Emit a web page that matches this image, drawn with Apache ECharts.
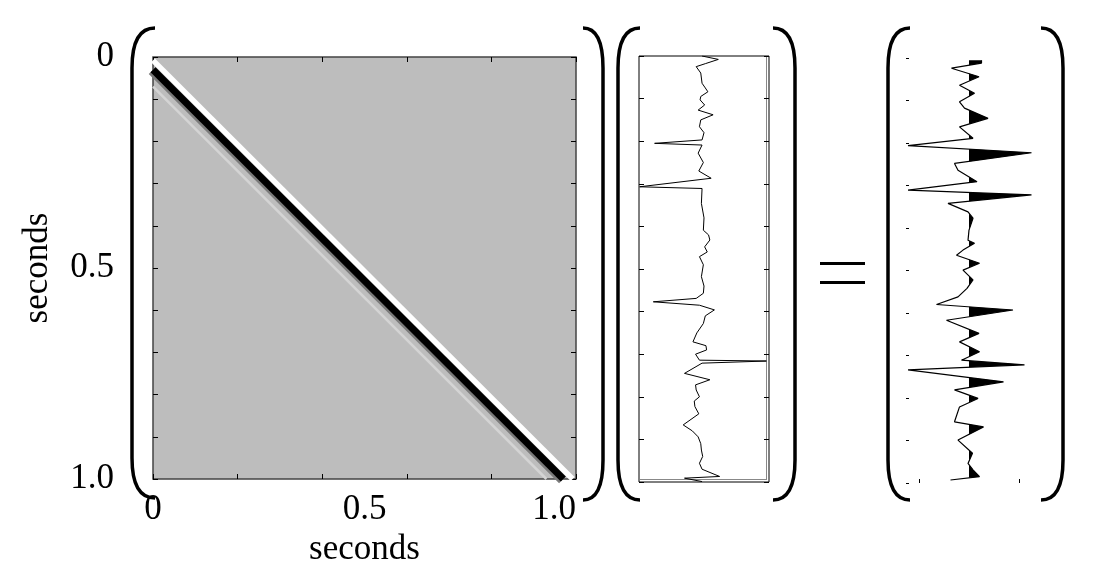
<!DOCTYPE html>
<html><head><meta charset="utf-8">
<script src="https://cdn.jsdelivr.net/npm/echarts@6/dist/echarts.min.js"></script>
<style>html,body{margin:0;background:#fff}#c{width:1100px;height:580px}</style></head>
<body><div id="c"></div>
<script>
// Matrix diagonal bands: offset below diagonal (seconds)
const bandOffsets = [0.07, 0.03, 0.03, 0.008];
// Middle vector (time s, amplitude)
const midT = [0,0.008,0.018,0.025,0.04,0.064,0.075,0.084,0.095,0.103,0.115,0.127,0.138,0.15,0.166,0.18,0.197,0.205,0.209,0.228,0.25,0.27,0.287,0.307,0.311,0.346,0.38,0.409,0.42,0.432,0.448,0.46,0.471,0.49,0.518,0.54,0.557,0.569,0.577,0.585,0.596,0.61,0.628,0.65,0.671,0.680,0.690,0.70,0.714,0.716,0.721,0.745,0.760,0.772,0.784,0.800,0.81,0.823,0.84,0.866,0.88,0.894,0.91,0.925,0.94,0.956,0.97,0.987,0.991,0.999];
const midV = [0,0.25,0.05,-0.09,-0.02,0,0.05,0.09,-0.02,-0.03,0.04,-0.06,0.17,-0.02,-0.04,0.03,0,-0.73,0,-0.06,0.02,-0.05,0.14,-0.96,0,-0.01,0.03,0.02,0.1,0.12,0.04,0.08,-0.04,0.02,-0.01,0.03,0.02,-0.09,-0.75,-0.04,0.19,0.05,0.02,-0.08,-0.14,0.06,0.07,-0.1,-0.04,0.99,0,-0.27,0.12,-0.1,-0.09,-0.04,-0.12,-0.11,-0.05,-0.29,-0.15,-0.06,-0.02,-0.01,0.01,-0.04,0,0.27,-0.27,0];
// Right result vector (time s, amplitude)
const resT = [0.005,0.012,0.024,0.044,0.064,0.083,0.103,0.118,0.142,0.162,0.189,0.206,0.223,0.248,0.264,0.291,0.311,0.322,0.342,0.362,0.377,0.405,0.429,0.436,0.452,0.464,0.483,0.499,0.522,0.542,0.562,0.580,0.593,0.617,0.648,0.668,0.691,0.711,0.722,0.734,0.762,0.781,0.801,0.821,0.856,0.868,0.899,0.930,0.954,0.969,0.985,0.993];
const resV = [0.25,0.25,-0.35,0.2,-0.19,0.11,-0.19,-0.09,0.38,-0.19,0.08,-1.22,1.25,-0.29,-0.22,0.16,-1.22,1.25,-0.42,-0.02,0.08,0,-0.02,0.11,-0.12,-0.25,0.21,-0.12,0.08,-0.04,-0.22,-0.65,0.88,-0.45,0.2,-0.19,0.21,-0.15,1.11,-1.22,0.69,-0.29,0.18,-0.19,-0.29,0.29,-0.22,0.07,-0.02,0.08,0.21,-0.37];
const leftLabels = [0, 0.5, 1];
const leftXTicks = [0,0.2,0.4,0.6,0.8,1];

const serif = 'Liberation Serif';
const fmt = v => v === 1 ? '1.0' : String(v);
const bandStyles = [
  {color:'#d4d4d4', width:2.5},
  {color:'#7a7a7a', width:12},
  {color:'#000', width:7},
  {color:'#fff', width:5.5}
];
const bandSeries = bandOffsets.map((o,i)=>({
  type:'line', xAxisIndex:0, yAxisIndex:0, symbol:'none', silent:true, clip:true,
  lineStyle:Object.assign({cap:'butt'}, bandStyles[i]), data:[[0,o],[1-o,1]]
}));

function paren(x0,x1,y0,y1){
  const st={stroke:'#000', lineWidth:3.5, fill:null};
  return [
    {type:'bezierCurve', shape:{x1:x1,y1:y0,cpx1:x0,cpy1:y0,x2:x0,y2:y0+40}, style:st},
    {type:'line', shape:{x1:x0,y1:y0+40,x2:x0,y2:y1-40}, style:st},
    {type:'bezierCurve', shape:{x1:x0,y1:y1-40,cpx1:x0,cpy1:y1,x2:x1,y2:y1}, style:st}
  ];
}
const tickCommon = {show:true, inside:true, length:5, lineStyle:{color:'#000'}};
const noLine = {show:false, onZero:false};

const chart = echarts.init(document.getElementById('c'));
chart.setOption({
  animation:false,
  grid:[
    {left:153, top:57, width:423, height:422, backgroundColor:'#bdbdbd', show:true, borderColor:'#444', borderWidth:1.5},
    {left:639, top:56, width:130, height:426, show:true, borderColor:'#000', borderWidth:1, backgroundColor:'#fff'},
    {left:906, top:58, width:128, height:425}
  ],
  xAxis:[
    {gridIndex:0, type:'value', min:0, max:1, position:'bottom',
      axisLine:noLine, splitLine:{show:false},
      axisTick:Object.assign({customValues:leftXTicks}, tickCommon),
      axisLabel:{customValues:leftLabels, formatter:fmt, fontFamily:serif, fontSize:35, color:'#000', margin:13, alignMaxLabel:'right'},
      name:'seconds', nameLocation:'middle', nameGap:48, nameTextStyle:{fontFamily:serif, fontSize:35, color:'#000'}},
    {gridIndex:0, type:'value', min:0, max:1, position:'top',
      axisLine:noLine, splitLine:{show:false}, axisLabel:{show:false},
      axisTick:Object.assign({customValues:leftXTicks}, tickCommon)},
    {gridIndex:1, type:'value', min:-0.97, max:1.03, show:false, axisLine:noLine},
    {gridIndex:2, type:'value', min:-1.26, max:1.3, axisLine:noLine, splitLine:{show:false}, axisLabel:{show:false},
      axisTick:{show:true, customValues:[-1,1], length:4, inside:true, lineStyle:{color:'#000'}}}
  ],
  yAxis:[
    {gridIndex:0, type:'value', min:0, max:1, inverse:true, interval:0.1, position:'left',
      axisLine:noLine, splitLine:{show:false}, axisTick:tickCommon,
      axisLabel:{customValues:leftLabels, formatter:fmt, fontFamily:serif, fontSize:35, color:'#000', margin:39},
      name:'seconds', nameLocation:'middle', nameGap:98, nameRotate:90, nameTextStyle:{fontFamily:serif, fontSize:35, color:'#000'}},
    {gridIndex:0, type:'value', min:0, max:1, inverse:true, interval:0.1, position:'right',
      axisLine:noLine, splitLine:{show:false}, axisLabel:{show:false}, axisTick:tickCommon},
    {gridIndex:1, type:'value', min:0, max:1, inverse:true, interval:0.1, position:'left',
      axisLine:noLine, splitLine:{show:false}, axisLabel:{show:false}, axisTick:tickCommon},
    {gridIndex:1, type:'value', min:0, max:1, inverse:true, interval:0.1, position:'right',
      axisLine:noLine, splitLine:{show:false}, axisLabel:{show:false}, axisTick:tickCommon},
    {gridIndex:2, type:'value', min:0, max:1, inverse:true, interval:0.1, position:'left',
      axisLine:noLine, splitLine:{show:false}, axisLabel:{show:false},
      axisTick:{show:true, inside:true, length:3, lineStyle:{color:'#000'}}}
  ],
  series:[
    ...bandSeries,
    {type:'line', xAxisIndex:2, yAxisIndex:2, symbol:'none', clip:true,
      lineStyle:{color:'#000', width:1}, data:midT.map((t,i)=>[midV[i],t])},
    {type:'custom', xAxisIndex:3, yAxisIndex:4, data:[0], renderItem:(params, api)=>{
      const pts=[[0,resT[0]]];
      for(let i=0;i<resT.length;i++){
        if(i>0 && (resV[i-1]>0) !== (resV[i]>0)){
          const f=resV[i-1]/(resV[i-1]-resV[i]);
          pts.push([0,resT[i-1]+f*(resT[i]-resT[i-1])]);
        }
        pts.push([Math.max(resV[i],0),resT[i]]);
      }
      pts.push([0,resT[resT.length-1]]);
      return {type:'polygon', shape:{points:pts.map(p=>api.coord(p))}, style:{fill:'#000'}};
    }},
    {type:'line', xAxisIndex:3, yAxisIndex:4, symbol:'none',
      lineStyle:{color:'#000', width:1.2}, data:resT.map((t,i)=>[resV[i],t])}
  ],
  graphic:[
    ...paren(132,155,28,498), ...paren(603,583,28,500),
    ...paren(618,640,28,500), ...paren(795,773,28,500),
    ...paren(888,910,28,500), ...paren(1063,1041,28,500),
    {type:'rect', shape:{x:820,y:262,width:45,height:3}, style:{fill:'#000'}},
    {type:'rect', shape:{x:820,y:281,width:45,height:3}, style:{fill:'#000'}},
    {type:'rect', shape:{x:766,y:57,width:1,height:422}, style:{fill:'#888'}},
    {type:'rect', shape:{x:640,y:479,width:127,height:1}, style:{fill:'#888'}}
  ]
});
</script></body></html>
